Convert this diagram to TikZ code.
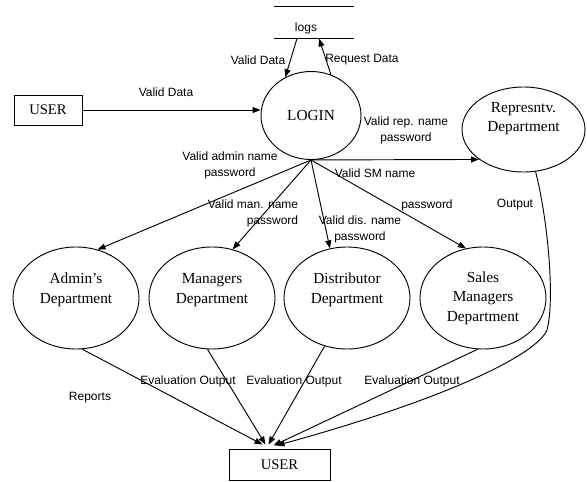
\documentclass[tikz,border=0pt]{standalone}
\usepackage{fontspec}
\setmainfont{Liberation Serif}
\setsansfont{Liberation Sans}
\usetikzlibrary{arrows.meta,shapes.geometric,calc}

\begin{document}
\begin{tikzpicture}[x=0.75pt,y=-0.75pt,line width=0.7pt,
  >={Triangle[length=6pt,width=4.5pt]},
  proc/.style={ellipse,draw,inner sep=0pt,align=center,font=\fontsize{11.5}{14.5}\selectfont},
  dept/.style={proc,minimum width=94.5pt,minimum height=76.5pt},
  ent/.style={rectangle,draw,inner sep=0pt,font=\fontsize{11}{13}\selectfont},
  lbl/.style={font=\sffamily\fontsize{9}{12}\selectfont,align=center,inner sep=1pt}]
\useasboundingbox (0,0) rectangle (587,482);

\node[ent,minimum width=51pt,minimum height=22.5pt] (usr1) at (48,110) {USER};
\node[proc,minimum width=75pt,minimum height=66pt] (login) at (311,115.5) {LOGIN};
\node[inner sep=0pt,minimum width=60pt,minimum height=23.25pt] (logs) at (314,22.5) {};
\node[lbl] (logstxt) at (306,28) {logs};
\draw (logs.north west) -- (logs.north east) (logs.south west) -- (logs.south east);
\node[proc,minimum width=92.25pt,minimum height=63.75pt] (rep) at (523.5,129.5) {Represntv.\\Department\\[4pt]\mbox{}};

\node[dept] (adm) at (76,298) {Admin's\\Department\\\mbox{}};
\node[dept] (mgr) at (212,298) {Managers\\Department\\\mbox{}};
\node[dept] (dst) at (347,298) {Distributor\\Department\\\mbox{}};
\node[dept] (sal) at (483,298) {Sales\\Managers\\Department};
\node[ent,minimum width=75.75pt,minimum height=23.25pt] (usr2) at (279.5,464.5) {USER};

\draw[->] ($(logs.south)+(-17,0)$) -- (login.124);
\draw[->] (login.64) -- ($(logs.south)+(5,0)$);
\draw[->] (usr1.east) -- (usr1.east -| login.west);
\draw[->] (login.south) -- (rep.214);
\draw[->] (login.south) -- (adm.66);
\draw[->] (login.south) -- (mgr.67);
\draw[->] (login.south) -- (dst.109);
\draw[->] (login.south) -- (sal.109);

\draw[->] (adm.277) -- ($(usr2.north)+(-17,-4)$);
\draw[->] (mgr.265) -- ($(usr2.north)+(-14,-4)$);
\draw[->] (dst.245) -- ($(usr2.north)+(-11,-4)$);
\draw[->] (sal.264) -- ($(usr2.north)+(-6,-3)$);
\draw[->] (rep.286) .. controls (548,220) and (555,300) .. (547,330)
  .. controls (538,352) and (460,395) .. ($(usr2.north)+(-3,-3)$);

\node[lbl] (vdlogs) at (258,60) {Valid Data};
\node[lbl] (rqlogs) at (362,60) {Request Data};
\node[lbl] (vduser) at (166,92) {Valid Data};
\node[lbl] (vrep) at (406,130) {Valid rep. name\\password};
\node[lbl] (vadm) at (230,165) {Valid admin name\\password};
\node[lbl] (vsm) at (375,173) {Valid SM name};
\node[lbl,align=right] (vman) at (253,213) {Valid man. name\\password};
\node[lbl] (vdis) at (360,229) {Valid dis. name\\password};
\node[lbl] (psal) at (427,205) {password};
\node[lbl] (outrep) at (515,205) {Output};
\node[lbl] (evmgr) at (188,381) {Evaluation Output};
\node[lbl] (evdst) at (294,381) {Evaluation Output};
\node[lbl] (evsal) at (412,381) {Evaluation Output};
\node[lbl] (repadm) at (90,398) {Reports};
\end{tikzpicture}
\end{document}
